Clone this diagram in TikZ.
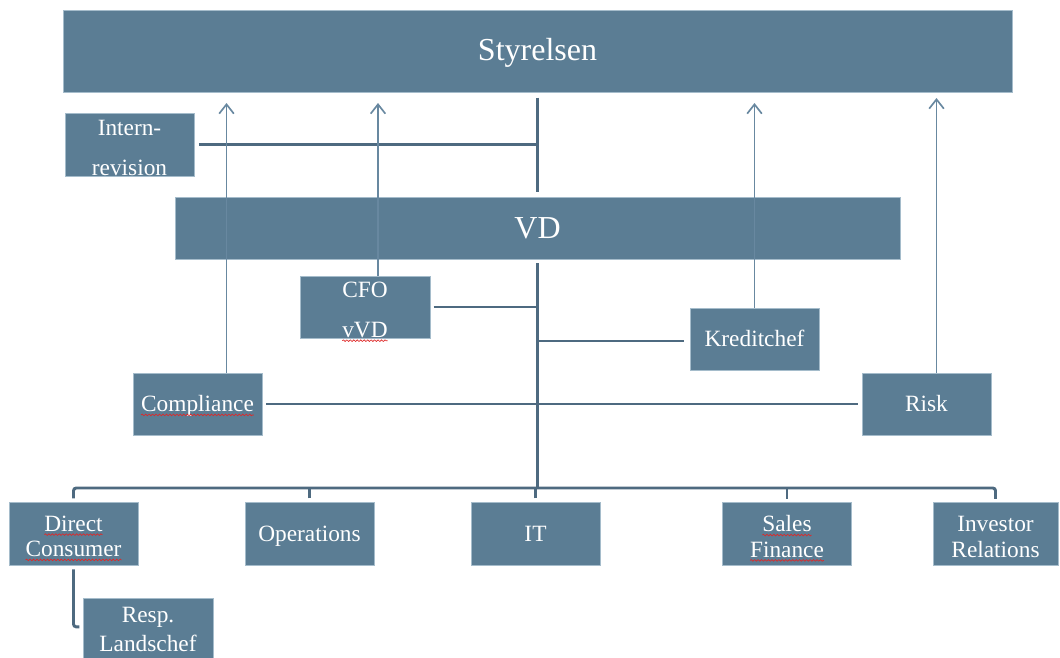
\documentclass[tikz,border=0pt]{standalone}
\usepackage{fontspec}
\setmainfont{Liberation Serif}
\usetikzlibrary{arrows.meta,decorations.pathmorphing}

\definecolor{boxfill}{RGB}{91,125,148}
\definecolor{boxedge}{RGB}{165,188,203}
\definecolor{linkc}{RGB}{78,106,128}
\definecolor{arrowc}{RGB}{104,136,160}
\definecolor{spellred}{RGB}{222,40,40}

\tikzset{
  unit box/.style={rectangle, fill=boxfill, draw=boxedge, line width=0.4pt,
    text=white, align=center, inner sep=0pt},
  small box/.style={unit box, minimum width=96.75pt, minimum height=46.5pt,
    font=\fontsize{17.5}{19}\selectfont},
  one line/.style={text height=11.6pt, text depth=0pt},
  wide box/.style={unit box, font=\fontsize{24}{28}\selectfont},
  link/.style={draw=linkc, line width=2.2pt},
  report/.style={draw=arrowc, line width=1.25pt,
    -{Straight Barb[length=7pt,width=11pt,line width=1.25pt]}},
  spell/.style={draw=spellred, line width=0.5pt, decorate, overlay,
    decoration={snake, amplitude=0.6pt, segment length=2.6pt}}
}

% word with a red wavy underline (kept out of the bounding box)
\newcommand\spellchk[1]{\tikz[baseline=(sw.base)]{%
  \node[rectangle, inner sep=0pt, outer sep=0pt, fill=none, draw=none,
        minimum width=0pt, minimum height=0pt, text=white] (sw) {#1};
  \draw[spell] ([yshift=-2.4pt]sw.base west) -- ([yshift=-2.4pt]sw.base east);}}

\begin{document}
\begin{tikzpicture}[x=0.75pt, y=-0.75pt]
  \useasboundingbox (0,0) rectangle (1060,657);
  \clip (0,0) rectangle (1060,657);

  % boxes
  \node[wide box, minimum width=711.75pt, minimum height=61.5pt] (sty) at (537.5,51) {\rule{0pt}{20pt}Styrelsen};
  \node[small box, minimum height=47.25pt] (intern) at (129.5,144.5) {\rule{0pt}{16pt}Intern-\\[11pt]revision};
  \node[wide box, minimum width=543.75pt, minimum height=46.5pt] (vd) at (537.5,228) {VD};
  \node[small box, minimum width=97.5pt] (cfo) at (365,307) {\rule{0pt}{16pt}CFO\\[11pt]\spellchk{vVD}};
  \node[small box, one line] (kred) at (754.5,339) {Kreditchef};
  \node[small box, one line] (comp) at (197.5,404) {\spellchk{Compliance}};
  \node[small box, one line] (risk) at (926.5,404) {Risk};
  \node[small box, minimum height=47.25pt] (dc) at (73.5,533.5) {\rule{0pt}{16pt}\spellchk{Direct}\\\spellchk{Consumer}};
  \node[small box, one line, minimum height=47.25pt] (ops) at (309.5,533.5) {Operations};
  \node[small box, one line, minimum height=47.25pt] (it) at (535.5,533.5) {IT};
  \node[small box, minimum height=47.25pt] (sf) at (787,534) {\rule{0pt}{16pt}\spellchk{Sales}\\\spellchk{Finance}};
  \node[small box, minimum width=93.75pt, minimum height=47.25pt] (ir) at (995.5,534) {\rule{0pt}{16pt}Investor\\Relations};
  \node[small box, minimum width=97.5pt, minimum height=47.25pt] (resp) at (148,629.5) {Resp.\\[3pt]Landschef};

  % helper levels
  \coordinate (busL) at (73.5,488);
  \coordinate (busR) at (995.5,488);
  \coordinate (tipA) at (0,103);
  \coordinate (tipB) at (0,98);

  % board line and internal audit
  \draw[link] ([yshift=-4pt]sty.south) -- ([yshift=3.5pt]vd.north);
  \draw[link] ([xshift=3.5pt]intern.east) -- (intern.east -| sty.south);

  % CEO line down to the business units
  \draw[link] ([yshift=-3pt]vd.south) -- (vd.south |- busL);
  \draw[link] ([xshift=2.5pt]cfo.east) -- (cfo.east -| vd.south);
  \draw[link] ([xshift=-4.5pt,yshift=-1.5pt]kred.west) -- ([yshift=-1.5pt]kred.west -| vd.south);
  \draw[link] ([xshift=3pt]comp.east) -- ([xshift=-3pt]risk.west);

  % bus to the business units
  \draw[link, rounded corners=2pt] ([yshift=2.5pt]dc.north) -- (busL) -- (busR) -- ([yshift=2.5pt]ir.north);
  \draw[link] ([yshift=2.5pt]ops.north) -- (ops.north |- busL);
  \draw[link] ([yshift=2.5pt]it.north) -- (it.north |- busL);
  \draw[link] ([yshift=2.5pt]sf.north) -- (sf.north |- busL);
  \draw[link, rounded corners=2pt] ([yshift=-3pt]dc.south) |- ([xshift=-2.5pt,yshift=2pt]resp.west);

  % direct reporting to the board
  \draw[report] ([xshift=21.75pt]comp.north) -- ([xshift=21.75pt]comp.north |- tipA);
  \draw[report] ([xshift=9.75pt]cfo.north) -- ([xshift=9.75pt]cfo.north |- tipA);
  \draw[report] (kred.north) -- (kred.north |- tipA);
  \draw[report] ([xshift=7.5pt]risk.north) -- ([xshift=7.5pt]risk.north |- tipB);
\end{tikzpicture}
\end{document}
